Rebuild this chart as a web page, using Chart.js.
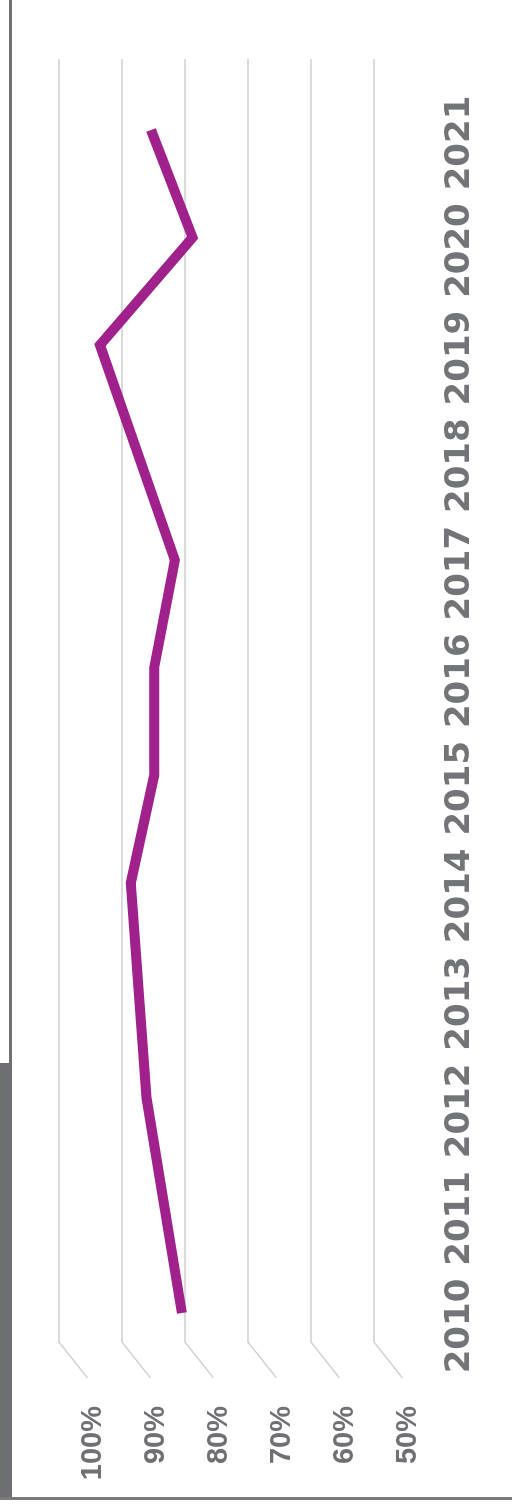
<!DOCTYPE html>
<html><head><meta charset="utf-8">
<script src="https://cdn.jsdelivr.net/npm/chart.js@4/dist/chart.umd.min.js"></script>
<style>
html,body{margin:0;padding:0;background:#fff;}
body{width:512px;height:1508px;position:relative;overflow:hidden;}
#rot{position:absolute;left:0;top:0;width:1508px;height:512px;transform-origin:0 0;transform:translate(0,1508px) rotate(-90deg);}
#rot canvas{display:block;}
.frameL{position:absolute;left:9px;top:0;width:3px;height:1065px;background:#707173;}
.block{position:absolute;left:0;top:1063px;width:12px;height:436px;background:#6d6e71;}
.frameB{position:absolute;left:0;top:1497px;width:512px;height:3px;background:#7a7a7c;}
</style></head>
<body>
<div id="rot"><canvas id="c" width="1508" height="512"></canvas></div>
<div class="frameL"></div>
<div class="block"></div>
<div class="frameB"></div>
<script>
const years = ['2010','2011','2012','2013','2014','2015','2016','2017','2018','2019','2020','2021'];
const rates = [80.5, null, 86.1, null, 88.6, 84.9, 84.9, 81.6, null, 93.5, 78.8, 85.4];
const valueMin = 50, valueMax = 100, valueStep = 10;

const wallGrid = {
  id: 'wallGrid',
  beforeDatasetsDraw(chart) {
    const {ctx, chartArea: a, scales: {y}} = chart;
    ctx.save();
    ctx.strokeStyle = '#cbd0d4';
    ctx.lineWidth = 1.5;
    y.ticks.forEach(t => {
      const py = y.getPixelForValue(t.value);
      ctx.beginPath();
      ctx.moveTo(a.right + 71, py);
      ctx.lineTo(a.left - 29, py);
      ctx.lineTo(a.left - 65, py + 28.5);
      ctx.stroke();
    });
    ctx.restore();
  }
};

new Chart(document.getElementById('c'), {
  type: 'line',
  data: {
    labels: years,
    datasets: [{
      data: rates,
      borderColor: '#a0208c',
      borderWidth: 10,
      borderJoinStyle: 'miter',
      borderCapStyle: 'butt',
      pointRadius: 0,
      tension: 0,
      spanGaps: true,
      fill: false
    }]
  },
  options: {
    responsive: false,
    animation: false,
    plugins: {legend: {display: false}, tooltip: {enabled: false}},
    layout: {padding: {left: 0, top: 59, right: 130, bottom: 0}},
    scales: {
      x: {
        offset: false,
        grid: {display: false, drawTicks: false},
        border: {display: false},
        ticks: {
          maxRotation: 0, minRotation: 0, autoSkip: false,
          padding: 66, labelOffset: -13,
          color: '#737477',
          font: {family: 'DejaVu Sans', weight: 'bold', size: 34}
        },
        afterFit(s) { s.height = 138; s.paddingLeft = 0; s.paddingRight = 0; }
      },
      y: {
        min: valueMin, max: valueMax,
        grid: {display: false, drawTicks: false},
        border: {display: false},
        ticks: {
          stepSize: valueStep,
          padding: 93, labelOffset: 34,
          color: '#6f7073',
          font: {family: 'Liberation Sans', weight: 'bold', size: 29},
          callback: v => v + '%'
        },
        afterFit(s) { s.width = 195; s.paddingTop = 0; s.paddingBottom = 0; }
      }
    }
  },
  plugins: [wallGrid]
});
</script>
</body></html>
